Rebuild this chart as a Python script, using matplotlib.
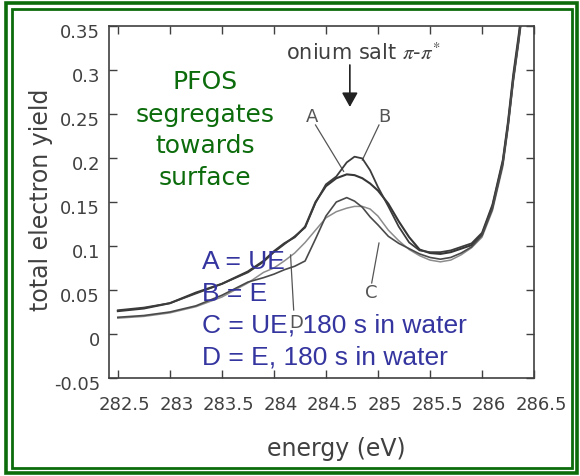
import matplotlib
matplotlib.use("Agg")
import matplotlib.pyplot as plt
import matplotlib.patches as patches
import matplotlib.transforms as mtransforms

# photon energy grid (eV) shared by the four spectra
energy = [282.5, 282.75, 283.0, 283.25, 283.5, 283.75, 283.9, 284.0, 284.1, 284.2,
          284.3, 284.4, 284.5, 284.6, 284.7, 284.775, 284.85, 284.925, 285.0, 285.1,
          285.2, 285.3, 285.4, 285.5, 285.6, 285.7, 285.8, 285.9, 286.0, 286.1,
          286.2, 286.25, 286.3, 286.35, 286.4]

# total electron yield, A = UE, B = E, C = UE 180 s water, D = E 180 s water
yield_a = [0.026, 0.029, 0.035, 0.047, 0.057, 0.071, 0.083, 0.094, 0.103, 0.110,
           0.122, 0.150, 0.168, 0.177, 0.1814, 0.1805, 0.177, 0.171, 0.163, 0.148,
           0.128, 0.110, 0.096, 0.092, 0.091, 0.093, 0.097, 0.101, 0.113, 0.1447,
           0.195, 0.238, 0.290, 0.333, 0.380]
yield_b = [0.027, 0.030, 0.035, 0.046, 0.057, 0.070, 0.082, 0.093, 0.102, 0.111,
           0.121, 0.149, 0.170, 0.179, 0.195, 0.2015, 0.1995, 0.186, 0.167, 0.145,
           0.122, 0.104, 0.095, 0.093, 0.093, 0.095, 0.099, 0.103, 0.115, 0.147,
           0.198, 0.242, 0.295, 0.338, 0.385]
yield_c = [0.019, 0.021, 0.025, 0.032, 0.044, 0.059, 0.064, 0.068, 0.073, 0.077,
           0.083, 0.108, 0.134, 0.150, 0.155, 0.151, 0.144, 0.133, 0.124, 0.111,
           0.103, 0.097, 0.091, 0.087, 0.085, 0.087, 0.092, 0.099, 0.112, 0.142,
           0.193, 0.236, 0.288, 0.331, 0.378]
yield_d = [0.018, 0.020, 0.024, 0.031, 0.042, 0.058, 0.070, 0.075, 0.083, 0.092,
           0.104, 0.118, 0.132, 0.139, 0.143, 0.145, 0.145, 0.142, 0.134, 0.118,
           0.106, 0.096, 0.089, 0.084, 0.082, 0.084, 0.090, 0.098, 0.110, 0.140,
           0.190, 0.233, 0.285, 0.328, 0.375]

x_ticks = [282.5, 283, 283.5, 284, 284.5, 285, 285.5, 286, 286.5]
x_tick_labels = ["282.5", "283", "283.5", "284", "284.5", "285", "285.5", "286", "286.5"]
y_ticks = [-0.05, 0, 0.05, 0.1, 0.15, 0.2, 0.25, 0.3, 0.35]
y_tick_labels = ["-0.05", "0", "0.05", "0.1", "0.15", "0.2", "0.25", "0.3", "0.35"]

note_lines = ["PFOS", "segregates", "towards", "surface"]
legend_lines = ["A = UE", "B = E", "C = UE, 180 s in water", "D = E, 180 s in water"]

INK = "#404040"
GREEN = "#0c6c0c"
BLUE = "#3535a0"


def draw_border(fig):
    """Double green frame around the slide."""
    W, H = 580.0, 476.0
    outer = patches.Rectangle((6 / W, 3 / H), 571 / W, 470 / H, transform=fig.transFigure,
                              fill=False, edgecolor=GREEN, linewidth=2.6)
    inner = patches.Rectangle((12 / W, 8 / H), 559.5 / W, 459.5 / H, transform=fig.transFigure,
                              fill=False, edgecolor=GREEN, linewidth=2.0)
    fig.patches.extend([outer, inner])


def plot_spectra(ax):
    ax.plot(energy, yield_a, color="#363636", lw=1.5, zorder=3)
    ax.plot(energy, yield_b, color="#3c3c3c", lw=1.3, zorder=3)
    ax.plot(energy, yield_c, color="#4a4a4a", lw=1.2, zorder=3)
    ax.plot(energy, yield_d, color="#8c8c8c", lw=1.1, zorder=2)

    ax.set_xlim(282.415, 286.49)
    ax.set_ylim(-0.05, 0.35)

    ax.set_xticks(x_ticks)
    ax.set_xticklabels(x_tick_labels)
    ax.set_yticks(y_ticks)
    ax.set_yticklabels(y_tick_labels)
    ax.tick_params(direction="in", length=6, width=1, top=True, right=True,
                   colors=INK, labelsize=13)
    ax.tick_params(axis="x", pad=13)
    ax.tick_params(axis="y", pad=6.5)
    for spine in ax.spines.values():
        spine.set_color(INK)
        spine.set_linewidth(1.2)

    ax.set_xlabel("energy (eV)", fontsize=17, color=INK)
    ax.set_ylabel("total electron yield", fontsize=17, color=INK)
    ax.xaxis.set_label_coords(0.534, -0.168)
    ax.yaxis.set_label_coords(-0.132, 0.506)


def annotate(ax):
    # peak marker
    ax.text(284.86, 0.3114, r"onium salt $\pi$-$\pi^{*}$", fontsize=15, color=INK,
            ha="center", va="baseline")
    ax.annotate("", xy=(284.73, 0.258), xytext=(284.73, 0.3057),
                arrowprops=dict(arrowstyle="-|>,head_length=0.72,head_width=0.4",
                                color="#222222", lw=1.2, mutation_scale=12,
                                shrinkA=0, shrinkB=0))

    # curve letters with leader lines
    for letter, (tx, ty), (x0, y0, x1, y1) in [
        ("A", (284.37, 0.2466), (284.40, 0.2375, 284.67, 0.1849)),
        ("B", (285.06, 0.2466), (285.01, 0.2375, 284.85, 0.1977)),
        ("C", (284.94, 0.0466), (284.94, 0.058, 285.01, 0.1034)),
        ("D", (284.21, 0.0125), (284.19, 0.0273, 284.16, 0.0898)),
    ]:
        ax.text(tx, ty, letter, fontsize=13, color="#555555", ha="center", va="center")
        ax.plot([x0, x1], [y0, y1], color="#555555", lw=0.9, zorder=2)

    # comment in green
    for line, y in zip(note_lines, [0.2784, 0.2409, 0.2057, 0.1693]):
        ax.text(283.34, y, line, fontsize=18, color=GREEN, ha="center", va="baseline",
                zorder=5)

    # sample key in blue
    for line, y in zip(legend_lines, [0.0735, 0.0375, 0.0015, -0.0344]):
        ax.text(283.31, y, line, fontsize=19, color=BLUE, ha="left", va="baseline",
                family="Liberation Sans", zorder=5)


def main():
    plt.rcParams["font.family"] = "DejaVu Sans"
    plt.rcParams["mathtext.fontset"] = "stix"

    fig = plt.figure(figsize=(5.8, 4.76), dpi=100)
    fig.patch.set_facecolor("white")
    ax = fig.add_axes([109 / 580, 1 - 378 / 476, 425 / 580, 352 / 476])

    plot_spectra(ax)
    annotate(ax)
    draw_border(fig)

    # the tick labels sit a little off their ticks
    dx = mtransforms.ScaledTranslation(7 / 100, 0, fig.dpi_scale_trans)
    dy = mtransforms.ScaledTranslation(0, -5 / 100, fig.dpi_scale_trans)
    for lbl in ax.get_xticklabels():
        lbl.set_transform(lbl.get_transform() + dx)
    for lbl in ax.get_yticklabels():
        lbl.set_transform(lbl.get_transform() + dy)

    fig.savefig("out.png", dpi=100)


if __name__ == "__main__":
    main()
